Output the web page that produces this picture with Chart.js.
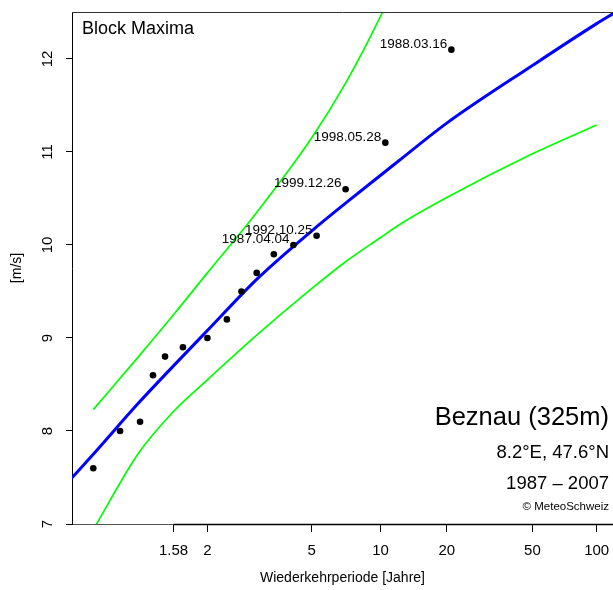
<!DOCTYPE html>
<html>
<head>
<meta charset="utf-8">
<script src="https://cdn.jsdelivr.net/npm/chart.js@4/dist/chart.umd.min.js"></script>
<style>
  html, body { margin: 0; padding: 0; background: #fff; }
  canvas { display: block; }
</style>
</head>
<body>
<canvas id="chart" width="613" height="590"></canvas>
<script>
// Jahresmaxima: Wiederkehrperiode [Jahre] und Wert [m/s]
const obsPeriod = [21, 10.5, 7, 5.25, 4.2, 3.5, 3, 2.63, 2.33, 2, 1.68, 1.5, 1.4, 1.31, 1.2, 1.1];
const obsValue = [12.1, 11.1, 10.6, 10.1, 10.0, 9.9, 9.7, 9.5, 9.2, 9.0, 8.9, 8.8, 8.6, 8.1, 8.0, 7.6];
const obsDate = ['1988.03.16', '1998.05.28', '1999.12.26', '1992.10.25', '1987.04.04'];

// Angepasste Kurve (blau) und Vertrauensbereich (grün)
const curvePeriod = [1.05, 1.1, 1.3, 1.58, 2, 3, 5, 7, 10, 12, 20, 50, 100, 120];
const fitValue = [7.49, 7.75, 8.30, 8.70, 9.08, 9.63, 10.15, 10.45, 10.75, 10.90, 11.31, 11.93, 12.38, 12.49];
const upperValue = [null, 8.23, 8.80, 9.25, 9.70, 10.35, 11.15, 11.74, 12.46, 12.88, null, null, null, null];
const lowerValue = [null, 6.94, 7.76, 8.21, 8.55, 9.03, 9.53, 9.82, 10.08, 10.21, 10.51, 10.98, 11.29, null];

const xTicks = [1.58, 2, 5, 10, 20, 50, 100];
const yTicks = [7, 8, 9, 10, 11, 12];

const FONT = '"Liberation Sans", Arial, Helvetica, sans-serif';
Chart.defaults.font.family = FONT;
Chart.defaults.color = '#000';

// Gumbel-Variable aus Wiederkehrperiode
const gumbel = T => -Math.log(-Math.log(1 - 1 / T));

function toPoints(periods, values) {
  const pts = [];
  periods.forEach((T, i) => {
    if (values[i] !== null) pts.push({ x: gumbel(T), y: values[i] });
  });
  return pts;
}

const lineStyle = (color, width) => ({
  borderColor: color,
  backgroundColor: color,
  borderWidth: width,
  pointRadius: 0,
  fill: false,
  cubicInterpolationMode: 'monotone',
  clip: 0
});

// Texte, Rahmen und y-Beschriftung
const annotations = {
  id: 'annotations',
  afterDraw(chart) {
    const { ctx, chartArea: a, scales: { x, y } } = chart;
    ctx.save();

    // Rahmen oben
    ctx.strokeStyle = '#333';
    ctx.lineWidth = 1;
    ctx.beginPath();
    ctx.moveTo(a.left, a.top + 0.5);
    ctx.lineTo(a.right, a.top + 0.5);
    ctx.stroke();

    // Achsenlinie von der ersten Markierung an
    ctx.strokeStyle = '#000';
    ctx.lineWidth = 1.5;
    ctx.beginPath();
    ctx.moveTo(x.getPixelForValue(gumbel(xTicks[0])), a.bottom + 0.5);
    ctx.lineTo(a.right, a.bottom + 0.5);
    ctx.stroke();

    ctx.fillStyle = '#000';

    // y-Achse: gedrehte Zahlen
    ctx.font = '15px ' + FONT;
    ctx.textAlign = 'center';
    ctx.textBaseline = 'middle';
    yTicks.forEach(v => {
      ctx.save();
      ctx.translate(a.left - 24, y.getPixelForValue(v));
      ctx.rotate(-Math.PI / 2);
      ctx.fillText(String(v), 0, 0);
      ctx.restore();
    });

    // Datum der grössten Ereignisse
    const meta = chart.getDatasetMeta(0);
    ctx.font = '13.5px ' + FONT;
    ctx.textAlign = 'right';
    ctx.textBaseline = 'alphabetic';
    obsDate.forEach((d, i) => {
      const p = meta.data[i];
      ctx.fillText(d, p.x - 4, p.y - 2);
    });

    ctx.textAlign = 'left';
    ctx.textBaseline = 'middle';
    ctx.font = '18px ' + FONT;
    ctx.fillText('Block Maxima', a.left + 10, a.top + 17);

    ctx.textAlign = 'right';
    const rx = 609;
    ctx.font = '25.5px ' + FONT;
    ctx.fillText('Beznau (325m)', rx, a.bottom - 106);
    ctx.font = '18.5px ' + FONT;
    ctx.fillText('8.2°E, 47.6°N', rx, a.bottom - 71.5);
    ctx.fillText('1987 – 2007', rx, a.bottom - 40.5);
    ctx.font = '11.5px ' + FONT;
    ctx.fillText('© MeteoSchweiz', rx, a.bottom - 17);

    ctx.restore();
  }
};

new Chart(document.getElementById('chart'), {
  type: 'line',
  data: {
    datasets: [
      {
        label: 'Block Maxima',
        data: toPoints(obsPeriod, obsValue),
        showLine: false,
        pointRadius: 3.3,
        pointBackgroundColor: '#000',
        pointBorderWidth: 0
      },
      Object.assign({ label: 'Fit', data: toPoints(curvePeriod, fitValue) }, lineStyle('#0000ff', 3)),
      Object.assign({ label: 'Obere Grenze', data: toPoints(curvePeriod, upperValue) }, lineStyle('#00ff00', 1.7)),
      Object.assign({ label: 'Untere Grenze', data: toPoints(curvePeriod, lowerValue) }, lineStyle('#00ff00', 1.7))
    ]
  },
  options: {
    responsive: false,
    animation: false,
    layout: { autoPadding: false, padding: { top: 12, left: 0, right: 0, bottom: 0 } },
    plugins: {
      legend: { display: false },
      tooltip: { enabled: false }
    },
    scales: {
      x: {
        type: 'linear',
        min: -1.106,
        max: 4.778,
        afterBuildTicks: s => { s.ticks = xTicks.map(t => ({ value: gumbel(t) })); },
        afterFit: s => {
          s.height = 66;
          s.paddingLeft = 0;
          s.paddingRight = 0;
        },
        ticks: {
          autoSkip: false,
          maxRotation: 0,
          padding: 10,
          font: { size: 15 },
          callback: (v, i) => String(xTicks[i])
        },
        grid: { drawOnChartArea: false, tickLength: 8, color: '#000' },
        border: { display: true, color: '#555', width: 1 },
        title: {
          display: true,
          text: 'Wiederkehrperiode [Jahre]',
          font: { size: 14 },
          padding: { top: 0, bottom: 3.6 }
        }
      },
      y: {
        type: 'linear',
        min: 7,
        max: 12.505,
        afterBuildTicks: s => { s.ticks = yTicks.map(v => ({ value: v })); },
        afterFit: s => { s.width = 72; },
        ticks: { display: false },
        grid: { drawOnChartArea: false, tickLength: 6, color: '#000' },
        border: { display: true, color: '#000', width: 1 },
        title: {
          display: true,
          text: '[m/s]',
          font: { size: 14 },
          padding: { top: 8.3, bottom: 0 }
        }
      }
    }
  },
  plugins: [annotations]
});
</script>
</body>
</html>
